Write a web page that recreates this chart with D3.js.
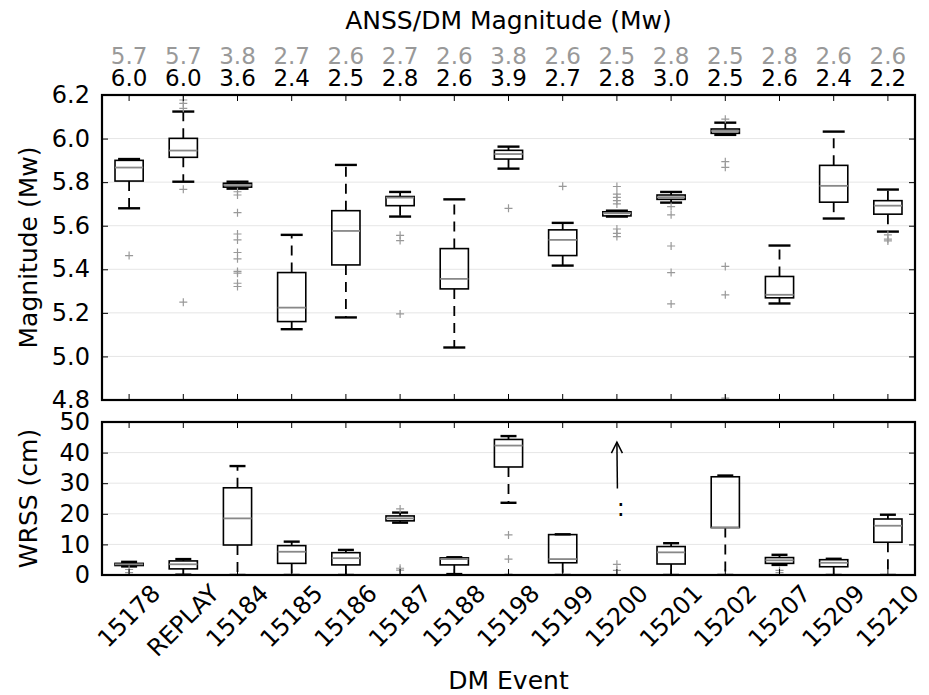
<!DOCTYPE html>
<html>
<head>
<meta charset="utf-8">
<script src="https://cdn.jsdelivr.net/npm/d3@7"></script>
<style>
  body { margin: 0; background: #fff; }
  svg text { font-family: "DejaVu Sans", sans-serif; }
</style>
</head>
<body>
<div id="chart"></div>
<script>
// events on the x axis
const events = ["15178", "REPLAY", "15184", "15185", "15186", "15187", "15188", "15198",
  "15199", "15200", "15201", "15202", "15207", "15209", "15210"];
const anssMag = ["5.7", "5.7", "3.8", "2.7", "2.6", "2.7", "2.6", "3.8", "2.6", "2.5", "2.8", "2.5", "2.8", "2.6", "2.6"];
const dmMag = ["6.0", "6.0", "3.6", "2.4", "2.5", "2.8", "2.6", "3.9", "2.7", "2.8", "3.0", "2.5", "2.6", "2.4", "2.2"];

// [low whisker, q1, median, q3, high whisker]
const magBoxes = [
  [5.68, 5.805, 5.867, 5.90, 5.906],
  [5.802, 5.914, 5.945, 6.001, 6.124],
  [5.770, 5.777, 5.787, 5.795, 5.802],
  [5.125, 5.16, 5.224, 5.385, 5.558],
  [5.179, 5.42, 5.576, 5.669, 5.879],
  [5.642, 5.692, 5.729, 5.734, 5.755],
  [5.041, 5.31, 5.356, 5.495, 5.721],
  [5.862, 5.906, 5.929, 5.946, 5.963],
  [5.417, 5.463, 5.535, 5.581, 5.613],
  [5.642, 5.645, 5.657, 5.664, 5.669],
  [5.706, 5.721, 5.731, 5.741, 5.755],
  [6.017, 6.024, 6.035, 6.044, 6.073],
  [5.243, 5.269, 5.283, 5.367, 5.509],
  [5.633, 5.708, 5.783, 5.877, 6.032],
  [5.573, 5.653, 5.692, 5.715, 5.766]
];
const magOutliers = [
  [5.463],
  [6.177, 6.162, 6.139, 5.767, 5.249],
  [5.756, 5.741, 5.66, 5.562, 5.535, 5.477, 5.448, 5.39, 5.382, 5.336, 5.321],
  [],
  [],
  [5.556, 5.532, 5.195],
  [],
  [5.68],
  [5.781],
  [5.78, 5.745, 5.73, 5.715, 5.70, 5.585, 5.565, 5.55],
  [5.688, 5.65, 5.507, 5.385, 5.241],
  [6.089, 5.894, 5.868, 5.413, 5.283, 4.809],
  [],
  [],
  [5.558, 5.538, 5.53]
];

const wrssBoxes = [
  [2.8, 3.1, 3.5, 3.8, 4.3],
  [0.1, 2.0, 3.5, 4.6, 5.2],
  [0, 9.8, 18.5, 28.5, 35.6],
  [0, 3.8, 7.6, 9.6, 10.9],
  [0, 3.3, 5.5, 7.3, 8.2],
  [17.1, 17.7, 18.5, 19.3, 20.4],
  [0.3, 3.3, 5.2, 5.6, 5.8],
  [23.6, 35.3, 42.3, 44.3, 45.4],
  [0, 4.0, 5.2, 13.2, 13.3],
  null,
  [0, 3.6, 7.4, 9.3, 10.4],
  [0, 15.5, 15.5, 32.1, 32.5],
  [3.3, 3.8, 4.8, 5.7, 6.6],
  [0, 2.7, 4.0, 5.0, 5.3],
  [0, 10.7, 16.1, 18.3, 19.7]
];
const wrssOutliers = [
  [1.8, 0.8], [], [], [], [], [21.6, 2.2, 1.6], [], [13.1, 5.2, 0.3],
  [], [3.5, 1.5], [], [], [1.5, 0.8], [], []
];
// off-scale marker for 15200
const arrowFrom = 28.3, arrowTo = 43.4;

const magTicks = [4.8, 5.0, 5.2, 5.4, 5.6, 5.8, 6.0, 6.2];
const wrssTicks = [0, 10, 20, 30, 40, 50];

const width = 929, height = 695,
  left = 102, right = 915,
  magTop = 95, magBottom = 400,
  wTop = 422, wBottom = 575;

const svg = d3.select("#chart").append("svg")
  .attr("width", width)
  .attr("height", height);

const x = d3.scaleBand().domain(events).range([left, right]);
const cx = d => x(d) + x.bandwidth() / 2;
const boxW = x.bandwidth() * 0.52;

const yMag = d3.scaleLinear().domain([4.8, 6.2]).range([magBottom, magTop]);
const yW = d3.scaleLinear().domain([0, 50]).range([wBottom, wTop]);

function drawPanel(y, boxes, outliers, ticks, fmt, top, bottom, capW, id) {
  const g = svg.append("g");

  // grid
  g.selectAll(".grid").data(ticks.slice(1, -1)).enter().append("line")
    .attr("x1", left).attr("x2", right)
    .attr("y1", d => y(d)).attr("y2", d => y(d))
    .attr("stroke", "#e6e6e6").attr("stroke-width", 1);

  svg.append("clipPath").attr("id", id)
    .append("rect").attr("x", left).attr("y", top)
    .attr("width", right - left).attr("height", bottom - top);

  const plot = g.append("g").attr("clip-path", `url(#${id})`);

  events.forEach((ev, i) => {
    const b = boxes[i];
    const xc = cx(ev);
    if (b) {
      // whiskers, dashed from the box edge outward
      plot.append("line")
        .attr("x1", xc).attr("x2", xc)
        .attr("y1", y(b[3])).attr("y2", y(b[4]))
        .attr("stroke", "#000").attr("stroke-width", 1.8)
        .attr("stroke-dasharray", "10,7");
      plot.append("line")
        .attr("x1", xc).attr("x2", xc)
        .attr("y1", y(b[1])).attr("y2", y(b[0]))
        .attr("stroke", "#000").attr("stroke-width", 1.8)
        .attr("stroke-dasharray", "10,7");
      // caps
      [b[0], b[4]].forEach(v => {
        plot.append("line")
          .attr("x1", xc - capW / 2).attr("x2", xc + capW / 2)
          .attr("y1", y(v)).attr("y2", y(v))
          .attr("stroke", "#000").attr("stroke-width", 2.4);
      });
      // box
      plot.append("rect")
        .attr("x", xc - boxW / 2).attr("width", boxW)
        .attr("y", y(b[3])).attr("height", y(b[1]) - y(b[3]))
        .attr("fill", "none").attr("stroke", "#000").attr("stroke-width", 1.6);
      // median
      plot.append("line")
        .attr("x1", xc - boxW / 2).attr("x2", xc + boxW / 2)
        .attr("y1", y(b[2])).attr("y2", y(b[2]))
        .attr("stroke", "#888").attr("stroke-width", 1.8);
    }
    outliers[i].forEach(v => {
      plot.append("path")
        .attr("d", `M${xc - 4},${y(v)}H${xc + 4}M${xc},${y(v) - 4}V${y(v) + 4}`)
        .attr("stroke", "#999").attr("stroke-width", 1.2).attr("fill", "none");
    });
  });

  // inward ticks on all four sides
  g.append("g").attr("transform", `translate(${left},0)`)
    .call(d3.axisLeft(y).tickValues(ticks).tickSize(-6).tickPadding(12).tickFormat(fmt))
    .call(a => a.select(".domain").remove())
    .call(a => a.selectAll("text").attr("font-size", 24).attr("fill", "#000")
      .attr("font-family", "DejaVu Sans"));
  g.append("g").attr("transform", `translate(${right},0)`)
    .call(d3.axisRight(y).tickValues(ticks).tickSize(-6).tickFormat(""))
    .call(a => a.select(".domain").remove());
  g.append("g").attr("transform", `translate(0,${top})`)
    .call(d3.axisTop(x).tickSize(-6).tickFormat(""))
    .call(a => a.select(".domain").remove());
  g.append("g").attr("transform", `translate(0,${bottom})`)
    .call(d3.axisBottom(x).tickSize(-6).tickFormat(""))
    .call(a => a.select(".domain").remove());

  g.append("rect")
    .attr("x", left).attr("y", top)
    .attr("width", right - left).attr("height", bottom - top)
    .attr("fill", "none").attr("stroke", "#000").attr("stroke-width", 2.2);
  return g;
}

drawPanel(yMag, magBoxes, magOutliers, magTicks, d3.format(".1f"), magTop, magBottom, 22, "clipMag");
drawPanel(yW, wrssBoxes, wrssOutliers, wrssTicks, d3.format("d"), wTop, wBottom, 16, "clipW");

// 15200 off-scale arrow
const ax = cx("15200");
svg.append("line")
  .attr("x1", ax + 0.5).attr("x2", ax)
  .attr("y1", yW(arrowFrom)).attr("y2", yW(arrowTo))
  .attr("stroke", "#000").attr("stroke-width", 1.5);
svg.append("path")
  .attr("d", `M${ax - 5.5},${yW(arrowTo) + 11}L${ax},${yW(arrowTo)}L${ax + 5.5},${yW(arrowTo) + 11}`)
  .attr("stroke", "#000").attr("stroke-width", 1.5).attr("fill", "none");
svg.append("text")
  .attr("x", ax + 4).attr("y", yW(20.4) + 3)
  .attr("text-anchor", "middle")
  .attr("font-size", 24)
  .text(":");

// top magnitude rows
svg.append("g").selectAll("text").data(events).enter().append("text")
  .attr("x", d => cx(d)).attr("y", 64)
  .attr("text-anchor", "middle").attr("font-size", 23).attr("fill", "#999")
  .text((d, i) => anssMag[i]);
svg.append("g").selectAll("text").data(events).enter().append("text")
  .attr("x", d => cx(d)).attr("y", 86)
  .attr("text-anchor", "middle").attr("font-size", 23).attr("fill", "#000")
  .text((d, i) => dmMag[i]);

// rotated event labels
const fs = 24;
svg.append("g").selectAll("text").data(events).enter().append("text")
  .attr("text-anchor", "middle")
  .attr("dominant-baseline", "central")
  .attr("font-size", fs)
  .text(d => d)
  .each(function(d) {
    const w = this.getComputedTextLength();
    const off = (w + fs * 0.73) / (2 * Math.SQRT2);
    d3.select(this).attr("transform", `translate(${cx(d)},${583 + off}) rotate(-45)`);
  });

// titles
svg.append("text")
  .attr("x", (left + right) / 2).attr("y", 29)
  .attr("text-anchor", "middle").attr("font-size", 25)
  .text("ANSS/DM Magnitude (Mw)");
svg.append("text")
  .attr("x", (left + right) / 2).attr("y", 689)
  .attr("text-anchor", "middle").attr("font-size", 25)
  .text("DM Event");
svg.append("text")
  .attr("transform", `translate(37,${(magTop + magBottom) / 2}) rotate(-90)`)
  .attr("text-anchor", "middle").attr("font-size", 25)
  .text("Magnitude (Mw)");
svg.append("text")
  .attr("transform", `translate(37,${(wTop + wBottom) / 2}) rotate(-90)`)
  .attr("text-anchor", "middle").attr("font-size", 25)
  .text("WRSS (cm)");
</script>
</body>
</html>
